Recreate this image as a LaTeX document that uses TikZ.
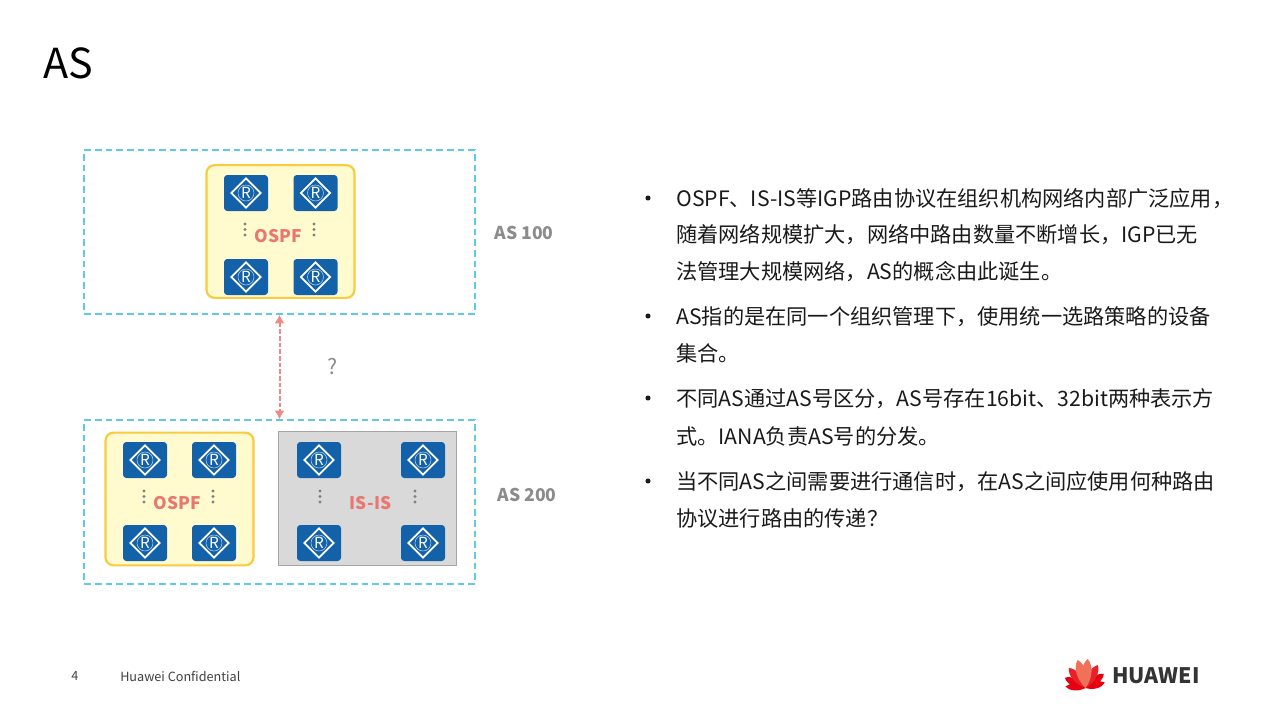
\documentclass[tikz,border=0pt]{standalone}
\usepackage{fontspec}
\setmainfont{Noto Sans CJK SC}
\usetikzlibrary{shapes.geometric,arrows.meta}
\definecolor{routerblue}{HTML}{1261A9}
\definecolor{dashblue}{HTML}{5FC9E8}
\definecolor{ospfyellow}{HTML}{FFFBCF}
\definecolor{ospfedge}{HTML}{F9CB3F}
\definecolor{protored}{HTML}{EA7670}
\definecolor{isisgray}{HTML}{D9D9D9}
\definecolor{labelgray}{HTML}{8C8C8C}
\definecolor{bodyblack}{HTML}{1A1A1A}
\tikzset{
	asbox/.style={draw=dashblue, line width=1.1pt, dash pattern=on 5pt off 3pt, inner sep=0pt},
	ospfbox/.style={draw=ospfedge, fill=ospfyellow, line width=1.6pt, rounded corners=6pt, inner sep=0pt},
	isisbox/.style={draw=black!35, fill=isisgray, line width=0.7pt, inner sep=0pt},
	routerbody/.style={fill=routerblue, rounded corners=2.5pt, minimum width=33pt, minimum height=27pt, inner sep=0pt},
	routermark/.style={draw=white, line width=1.4pt, diamond, minimum width=22.5pt, minimum height=22.5pt, inner sep=0pt},
	protolabel/.style={text=protored, font=\fontsize{13}{13}\selectfont\bfseries},
	aslabel/.style={text=labelgray, font=\fontsize{13.2}{13.2}\selectfont\bfseries},
	bodyline/.style={anchor=west, text=bodyblack, inner sep=0pt, font=\fontsize{15.9}{15.9}\selectfont},
}
\def\router(#1,#2)#3{
	\node[routerbody] (#3) at (#1,#2) {};
	\node[routermark] (#3m) at (#3) {};
	\node[text=white, inner sep=0pt, font=\fontsize{11.5}{11.5}\selectfont] (#3r) at (#3) {R};
	\draw[white!70!routerblue, line width=0.4pt] (#3) circle (6pt);
}
\def\vdotsgray(#1,#2){
	\foreach \k in {0,1,2} \fill[black!50] (#1,#2+\k*5.5) circle (1.2pt);
}
\begin{document}
\begin{tikzpicture}[x=0.75pt, y=-0.75pt]
	\useasboundingbox[fill=white] (0,0) rectangle (1270,710);
	
	\node[anchor=west, inner sep=0pt, font=\fontsize{31}{31}\selectfont] (title) at (43,63) {AS};
	
	% AS boxes
	\node[asbox, minimum width=293pt, minimum height=123pt] (as100) at (279.5,232) {};
	\node[asbox, minimum width=293pt, minimum height=123pt] (as200) at (279.5,502) {};
	\node[aslabel] (as100t) at (524,232.5) {AS 100};
	\node[aslabel] (as200t) at (527,494.5) {AS 200};
	
	\draw[protored!85!white, line width=1.5pt, dash pattern=on 3.5pt off 1.5pt, {Latex[length=6.5pt,width=7.5pt]}-{Latex[length=6.5pt,width=7.5pt]}] (as100) -- (as200);
	\node[text=labelgray, font=\fontsize{16}{16}\selectfont] (ask) at (333,366.5) {?};
	
	% upper OSPF
	\node[ospfbox, minimum width=111pt, minimum height=99.5pt] (ospfa) at (280.5,231.5) {};
	\router(246,193){ra1}
	\router(315.5,193){ra2}
	\router(246,277){ra3}
	\router(315.5,277){ra4}
	\vdotsgray(245,224)
	\vdotsgray(314,224)
	\node[protolabel] (ospfat) at (278,236.5) {OSPF};
	
	% lower OSPF
	\node[ospfbox, minimum width=111pt, minimum height=99.5pt] (ospfb) at (179.5,499) {};
	\router(145,460){rb1}
	\router(214,460){rb2}
	\router(145,543){rb3}
	\router(214,543){rb4}
	\vdotsgray(144,491)
	\vdotsgray(213,491)
	\node[protolabel] (ospfbt) at (177.5,503.5) {OSPF};
	
	% IS-IS
	\node[isisbox, minimum width=134pt, minimum height=100pt] (isis) at (367.5,498.5) {};
	\router(319,460){rc1}
	\router(423,460){rc2}
	\router(319,543){rc3}
	\router(423,543){rc4}
	\vdotsgray(320,491)
	\vdotsgray(415,491)
	\node[protolabel] (isist) at (370.5,503.5) {IS-IS};
	
	% bullets
	\foreach \y/\txt [count=\i] in {
		199/{OSPF、IS-IS等IGP路由协议在组织机构网络内部广泛应用，},
		235/{随着网络规模扩大，网络中路由数量不断增长，IGP已无},
		272/{法管理大规模网络，AS的概念由此诞生。},
		317/{AS指的是在同一个组织管理下，使用统一选路策略的设备},
		353/{集合。},
		399/{不同AS通过AS号区分，AS号存在16bit、32bit两种表示方},
		436/{式。IANA负责AS号的分发。},
		482/{当不同AS之间需要进行通信时，在AS之间应使用何种路由},
		518/{协议进行路由的传递？}}
		\node[bodyline] (line\i) at (676,\y) {\txt};
	\foreach \y in {198,316,398,481}
		\fill[bodyblack] (648,\y) circle (1.9pt);
	
	% footer
	\node[text=black!75, font=\fontsize{9.5}{9.5}\selectfont] (page) at (75,676) {4};
	\node[anchor=west, inner sep=0pt, text=black!75, font=\fontsize{9.5}{9.5}\selectfont] (conf) at (120,676) {Huawei Confidential};
	
	% logo
	\foreach \a/\l/\c in {-80/20/E60012,80/20/E60012,-58/23/E60012,58/23/E60012,-34/26/E8202A,34/26/E8202A,-10/29/F0705A,10/29/F0705A}{
		\definecolor{petal}{HTML}{\c}
		\fill[petal, shift={(1085.5,688)}, rotate=\a] (0,0) .. controls (-0.25*\l,-0.35*\l) and (-0.3*\l,-0.75*\l) .. (-0.1*\l,-\l) .. controls (0.15*\l,-0.8*\l) and (0.18*\l,-0.35*\l) .. (0,0);
	}
	\node[anchor=west, inner sep=0pt, text=black!80, font=\fontsize{16}{16}\selectfont\bfseries] (brand) at (1112,676) {HUAWEI};
\end{tikzpicture}
\end{document}
